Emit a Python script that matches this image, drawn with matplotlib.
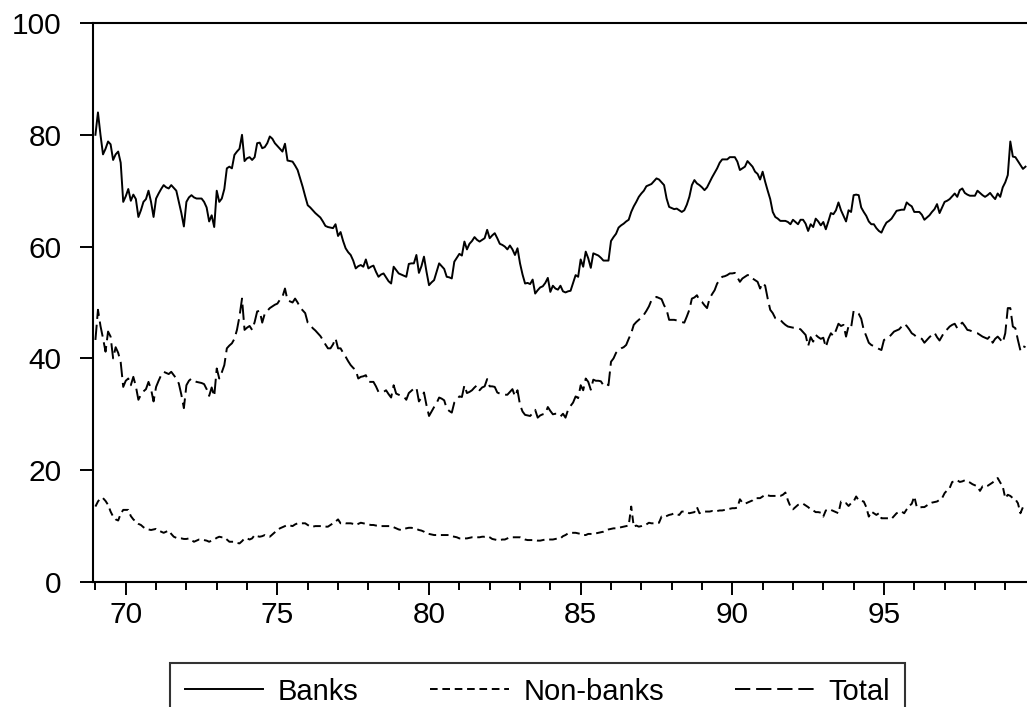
import matplotlib.pyplot as plt
import numpy as np

# Monthly shares, 1969:01 - 1999:09
start_year = 1969

banks = [
    80, 84, 80, 76.5, 77.5, 78.8, 78.3, 75.5, 76.5, 77, 75, 68,             # 69
    69, 70.3, 68.2, 69.3, 68.5, 65.3, 66.5, 68, 68.5, 70, 68, 65.3,         # 70
    68.6, 69.5, 70.3, 71, 70.6, 70.4, 71, 70.5, 70, 68, 66, 63.6,           # 71
    68, 68.8, 69.2, 68.8, 68.6, 68.6, 68.6, 68, 67, 64.5, 65.6, 63.5,       # 72
    70, 68, 68.6, 70.3, 74, 74.3, 74, 76.4, 77, 77.5, 80, 75.3,             # 73
    75.8, 76, 75.5, 76, 78.5, 78.6, 77.6, 77.8, 78.5, 79.7, 79.3, 78.5,     # 74
    78, 77.5, 77, 78.4, 75.4, 75.3, 75.2, 74.5, 73.7, 72.2, 70.7, 69,       # 75
    67.4, 67, 66.5, 66, 65.6, 65.2, 64.5, 63.7, 63.5, 63.4, 63.3, 64,       # 76
    61.9, 62.6, 61, 59.7, 59, 58.5, 57.5, 56.1, 56.5, 56.7, 56.4, 57.7,     # 77
    56.1, 56.4, 56.6, 55.5, 54.6, 55, 55.2, 54.5, 53.8, 53.4, 56.4, 55.8,   # 78
    55.2, 55, 54.8, 54.6, 56.9, 57, 57, 58.5, 55.3, 56.5, 58.2, 55.5,       # 79
    53.1, 53.6, 54, 55.5, 57, 56.5, 56, 54.6, 54.5, 54.3, 57.3, 58,         # 80
    58.7, 58.4, 60.9, 59.5, 60.5, 61, 61.7, 61.2, 60.9, 61.2, 61.5, 63,     # 81
    61.5, 62, 62.4, 61.5, 60.5, 60.3, 60, 59.5, 60.2, 59.5, 58.5, 59.7,     # 82
    57, 55, 53.4, 53.5, 53.3, 54.1, 51.6, 52.2, 52.7, 52.9, 53.5, 54.4,     # 83
    51.9, 53, 52.5, 52.3, 53, 52, 51.8, 52, 52.1, 53.5, 54.9, 54.6,         # 84
    57.7, 56.4, 59.1, 57.9, 56.2, 58.8, 58.6, 58.4, 58, 57.5, 57.5, 57.5,   # 85
    61, 61.7, 62.3, 63.4, 63.8, 64.1, 64.5, 64.8, 66.2, 67.2, 68, 68.9,     # 86
    69.5, 70, 70.8, 71, 71.2, 71.7, 72.2, 72, 71.5, 71, 68.6, 67.1,         # 87
    66.9, 66.7, 66.8, 66.5, 66.2, 66.5, 67.5, 68.9, 71, 71.9, 71.3, 71,     # 88
    70.6, 70.1, 70.6, 71.5, 72.4, 73.2, 74, 75, 75.6, 75.6, 75.6, 76,       # 89
    76, 76, 75.2, 73.7, 74, 74.3, 75.3, 74.8, 74.3, 73.4, 73, 72,           # 90
    73.4, 71.6, 70, 68.5, 66.2, 65.3, 65, 64.6, 64.6, 64.6, 64.4, 64,       # 91
    64.8, 64.4, 64, 64.8, 64.8, 64.1, 62.8, 64, 63.5, 65, 64.5, 63.8,       # 92
    64.4, 63.1, 64.5, 66, 65.8, 66.5, 67.9, 66.5, 65.5, 64.5, 66.5, 66.2,   # 93
    69.2, 69.3, 69.2, 67, 66.2, 65.5, 64.5, 64, 64, 63.3, 62.8, 62.5,       # 94
    63.5, 64.3, 64.6, 65, 65.7, 66.4, 66.5, 66.6, 66.6, 67.9, 67.5, 67.2,   # 95
    66.2, 66.2, 66.2, 65.7, 64.8, 65.2, 65.6, 66.2, 66.7, 67.6, 66, 67,     # 96
    68, 68.2, 68.5, 69, 69.5, 68.9, 70.1, 70.4, 69.6, 69.3, 69.1, 69.1,     # 97
    69.1, 70, 69.6, 69.2, 68.9, 69.2, 69.6, 69, 68.5, 69.5, 68.9, 70.6,     # 98
    71.5, 72.8, 78.8, 76.1, 76, 75.3, 74.6, 73.9, 74.3,                     # 99
]

non_banks = [
    13.5, 14.4, 15, 15, 14.5, 13.8, 12.6, 11.7, 11.2, 11, 12.2, 12.9,
    12.9, 12.9, 11.8, 11.2, 10.8, 10.4, 10.2, 9.8, 9.5, 9.4, 9.3, 9.4,
    9.5, 9.2, 9, 8.8, 9, 9.2, 8.6, 8.1, 7.9, 7.8, 7.8, 7.7,
    7.7, 7.8, 7.5, 7.2, 7.4, 7.6, 7.6, 7.5, 7.4, 7.2, 7.4, 7.6,
    7.9, 8.1, 8, 8, 7.6, 7.2, 7.2, 7.2, 7, 6.9, 7.3, 7.8,
    7.8, 7.6, 7.8, 8.4, 8.2, 8.1, 8.2, 8.4, 8.2, 8.1, 8.5, 8.9,
    9.3, 9.6, 9.8, 10, 10.2, 10.1, 10, 10.3, 10.5, 10.5, 10.5, 10.5,
    10.2, 9.9, 9.9, 10, 10, 10, 10, 9.9, 9.9, 10.2, 10.5, 10.8,
    11.2, 10.5, 10.6, 10.5, 10.5, 10.5, 10.4, 10.2, 10.4, 10.6, 10.5, 10.4,
    10.3, 10.2, 10.2, 10.1, 10.1, 10, 10, 10, 10, 10, 9.8, 9.6,
    9.4, 9.3, 9.5, 9.6, 9.7, 9.7, 9.6, 9.5, 9.3, 9.2, 9, 8.7,
    8.6, 8.5, 8.4, 8.4, 8.4, 8.4, 8.4, 8.4, 8.4, 8.2, 8.1, 8,
    7.8, 7.8, 7.8, 7.8, 7.9, 8, 8, 8, 8, 8.1, 8.1, 8.2,
    8, 7.7, 7.6, 7.5, 7.5, 7.6, 7.6, 7.8, 8, 8, 8, 8,
    8, 7.8, 7.6, 7.5, 7.5, 7.5, 7.5, 7.4, 7.4, 7.5, 7.6, 7.6,
    7.6, 7.6, 7.7, 7.8, 7.8, 8.2, 8.4, 8.7, 8.8, 8.8, 8.8, 8.7,
    8.6, 8.4, 8.4, 8.6, 8.6, 8.6, 8.7, 8.8, 8.9, 9, 9.2, 9.4,
    9.5, 9.6, 9.6, 9.7, 9.8, 9.9, 10, 10.1, 13.5, 9.9, 10.1, 9.9,
    10, 10.2, 10.3, 10.6, 10.5, 10.5, 10.6, 10.6, 11.7, 11.6, 11.8, 12,
    12.1, 12.3, 12.1, 12, 12.6, 12.6, 12.5, 12.3, 12.4, 12.5, 13.4, 12.3,
    12.5, 12.6, 12.6, 12.6, 12.7, 12.6, 12.7, 12.8, 12.8, 12.9, 13, 13.1,
    13.2, 13.2, 13.3, 14.8, 14.2, 14, 14.2, 14.4, 14.6, 15, 15, 15,
    15.3, 15.6, 15.5, 15.4, 15.4, 15.4, 15.4, 15.4, 15.6, 16, 14.6, 13.5,
    13, 13.4, 13.8, 13.9, 14, 13.7, 13.4, 13, 12.8, 12.5, 12.5, 12.4,
    11.7, 12.8, 13, 12.9, 12.7, 12.5, 12.3, 14.4, 14.2, 14.1, 13.6, 14.1,
    14.4, 15.3, 14.6, 14.5, 14.4, 13.4, 11.7, 12.6, 12.3, 12, 12.3, 11.4,
    11.4, 11.4, 11.4, 11.3, 11.8, 12.3, 12.5, 12.6, 12.3, 13, 13.6, 14,
    15.3, 13.4, 13.3, 13.4, 13.4, 13.7, 14, 14.2, 14.3, 14.4, 14.7, 15,
    15.9, 16.4, 16.8, 17.9, 18, 18.2, 17.9, 18, 18.2, 18, 17.8, 17.5,
    17.3, 17.1, 16.3, 17.1, 17, 17.2, 17.5, 17.8, 18.2, 18.6, 17.8, 17.1,
    15, 15.6, 15.4, 15, 14.8, 14.1, 12.3, 13.4, 13.6,
]

total = [
    43.3, 48.7, 45.8, 43.6, 41.2, 44.8, 43.9, 40, 42, 41, 39.3, 34.9,
    36, 36.4, 35.2, 36.7, 35, 32.6, 33.5, 34.1, 34.5, 35.8, 34.5, 32.3,
    34.9, 36, 37, 37.6, 37.4, 37.2, 37.6, 37, 36.4, 35.5, 33.5, 31.1,
    35.2, 36, 36.4, 36, 35.8, 35.7, 35.6, 35.4, 34.5, 33.3, 34.8, 33.2,
    38.2, 36.4, 37.5, 38.8, 41.8, 42.3, 42.7, 43.5, 45.1, 47.5, 50.7, 45.1,
    45.5, 45.8, 45.1, 46.5, 48.4, 48.5, 46.4, 48, 48.5, 49, 49.3, 49.6,
    49.8, 50.5, 51, 52.5, 50.4, 50.2, 50, 50.7, 50, 49.1, 48.6, 48.1,
    46.4, 46, 45.4, 45, 44.5, 44, 43.3, 42.5, 41.8, 41.8, 42.5, 43.6,
    41.8, 41.8, 41, 40.3, 39.5, 38.8, 38.3, 37.9, 36.4, 36.7, 36.8, 37,
    35.8, 35.8, 35.8, 35, 34, 34, 34, 34.3, 33.6, 33, 35.2, 33.7,
    33.5, 33.3, 33.2, 32.6, 33.8, 34.2, 34.6, 34.8, 32.3, 33, 33.9, 31.6,
    29.7, 30.5, 31.3, 32, 33, 32.8, 32.5, 31, 30.6, 30.3, 32.1, 32.6,
    33.2, 33.1, 35.2, 33.8, 34, 34.3, 34.8, 35.2, 34.3, 34.8, 35, 36.3,
    35, 35, 34.9, 33.9, 33.7, 33.5, 33.5, 33.5, 34, 34.5, 33.2, 34.3,
    31.7, 30.5, 29.9, 29.8, 29.7, 30.2, 30.8, 29.4, 29.8, 30, 30.1, 31.3,
    30.6, 30, 30.1, 30.1, 29.6, 30.1, 29.4, 30.8, 31.5, 32.1, 33.2, 32.9,
    35.2, 34.3, 36.4, 35.8, 34.4, 36.2, 36, 36, 35.9, 35.2, 35.5, 35.2,
    39.4, 40, 41, 41.5, 41.8, 42, 42.4, 43.5, 44.5, 46, 46.5, 46.9,
    47.3, 47.8, 48.5, 49.3, 50.4, 50.7, 51, 50.8, 50.6, 49.5, 48.7, 46.9,
    46.9, 46.9, 46.8, 46.7, 46.5, 46.4, 47.5, 48.7, 50.7, 50.9, 51.3, 50.4,
    50.1, 49.5, 49, 50.7, 51.5, 52.2, 53.4, 54, 54.6, 54.7, 54.9, 55.2,
    55.2, 55.3, 54.5, 53.7, 54.3, 54.6, 54.9, 54.9, 54.3, 54, 53.7, 52.5,
    53.5, 53, 50.7, 48.7, 48.1, 47.2, 47, 46.9, 46.4, 46, 45.7, 45.6,
    45.5, 45.6, 45.4, 45.2, 44.7, 44.2, 42.2, 43.8, 43, 44.2, 43.8, 43.5,
    43.7, 42, 43.5, 44.5, 44, 45, 46.2, 45.8, 46, 43.9, 45.8, 45.5,
    48.5, 48.4, 48, 47.1, 45.1, 44, 42.8, 42.4, 42.2, 42, 41.7, 41.5,
    43.3, 43.5, 43.8, 44.3, 44.8, 45, 45.2, 45.7, 46.2, 45.8, 45.2, 44.5,
    44.2, 43.8, 43.6, 43.5, 42.8, 43.3, 43.8, 44.2, 44.6, 43.8, 43.2, 44,
    44.8, 45.2, 45.7, 46, 46.2, 45.4, 46, 46.4, 45.8, 45.1, 45, 44.8,
    44.6, 44.5, 44.2, 43.9, 43.7, 43.5, 44, 42.8, 43.5, 43.9, 43.4, 42.8,
    44.5, 49, 49, 45.7, 45.4, 43.3, 41.4, 42.2, 42,
]

year_ticks = [1970, 1975, 1980, 1985, 1990, 1995]
y_ticks = [0, 20, 40, 60, 80, 100]

plt.rcParams['font.family'] = ['Liberation Sans', 'DejaVu Sans']
plt.rcParams['lines.scale_dashes'] = False

dates = start_year + np.arange(len(banks)) / 12.0

fig = plt.figure(figsize=(10.27, 7.07), dpi=100)
ax = fig.add_axes([93/1027, 125/707, 934/1027, 559/707])

lw = 1.4
ax.plot(dates, banks, color='black', lw=lw, label="Banks")
ax.plot(dates, non_banks, color='black', lw=lw, dashes=(5.5, 3.4), label="Non-banks")
ax.plot(dates, total, color='black', lw=lw, dashes=(11, 4.2), label="Total")

ax.set_xlim(1968.92, dates[-1] + 0.05)
ax.set_ylim(0, 100)

ax.set_xticks(year_ticks)
ax.set_xticklabels([str(y % 100) for y in year_ticks])
ax.set_xticks(np.arange(1969, 2000), minor=True)
ax.set_yticks(y_ticks)

ax.tick_params(axis='both', which='major', direction='out', length=9.5, width=1.4,
               labelsize=21.5, color='black')
ax.tick_params(axis='x', which='major', pad=4.5)
ax.tick_params(axis='y', which='major', pad=13)
ax.tick_params(axis='x', which='minor', direction='out', length=6, width=1.4)

for side in ['left', 'top', 'bottom']:
    ax.spines[side].set_linewidth(1.5)
ax.spines['right'].set_visible(False)

leg = fig.legend(loc='upper left', bbox_to_anchor=(170/1027, 1 - 663/707, 735/1027, 0),
                 mode='expand', ncol=3, fontsize=21, frameon=True, fancybox=False,
                 handlelength=2.7, handletextpad=0.5, borderpad=0.5, borderaxespad=0)
leg.get_frame().set_edgecolor('black')
leg.get_frame().set_linewidth(1.5)

plt.savefig("out.png", dpi=100)
